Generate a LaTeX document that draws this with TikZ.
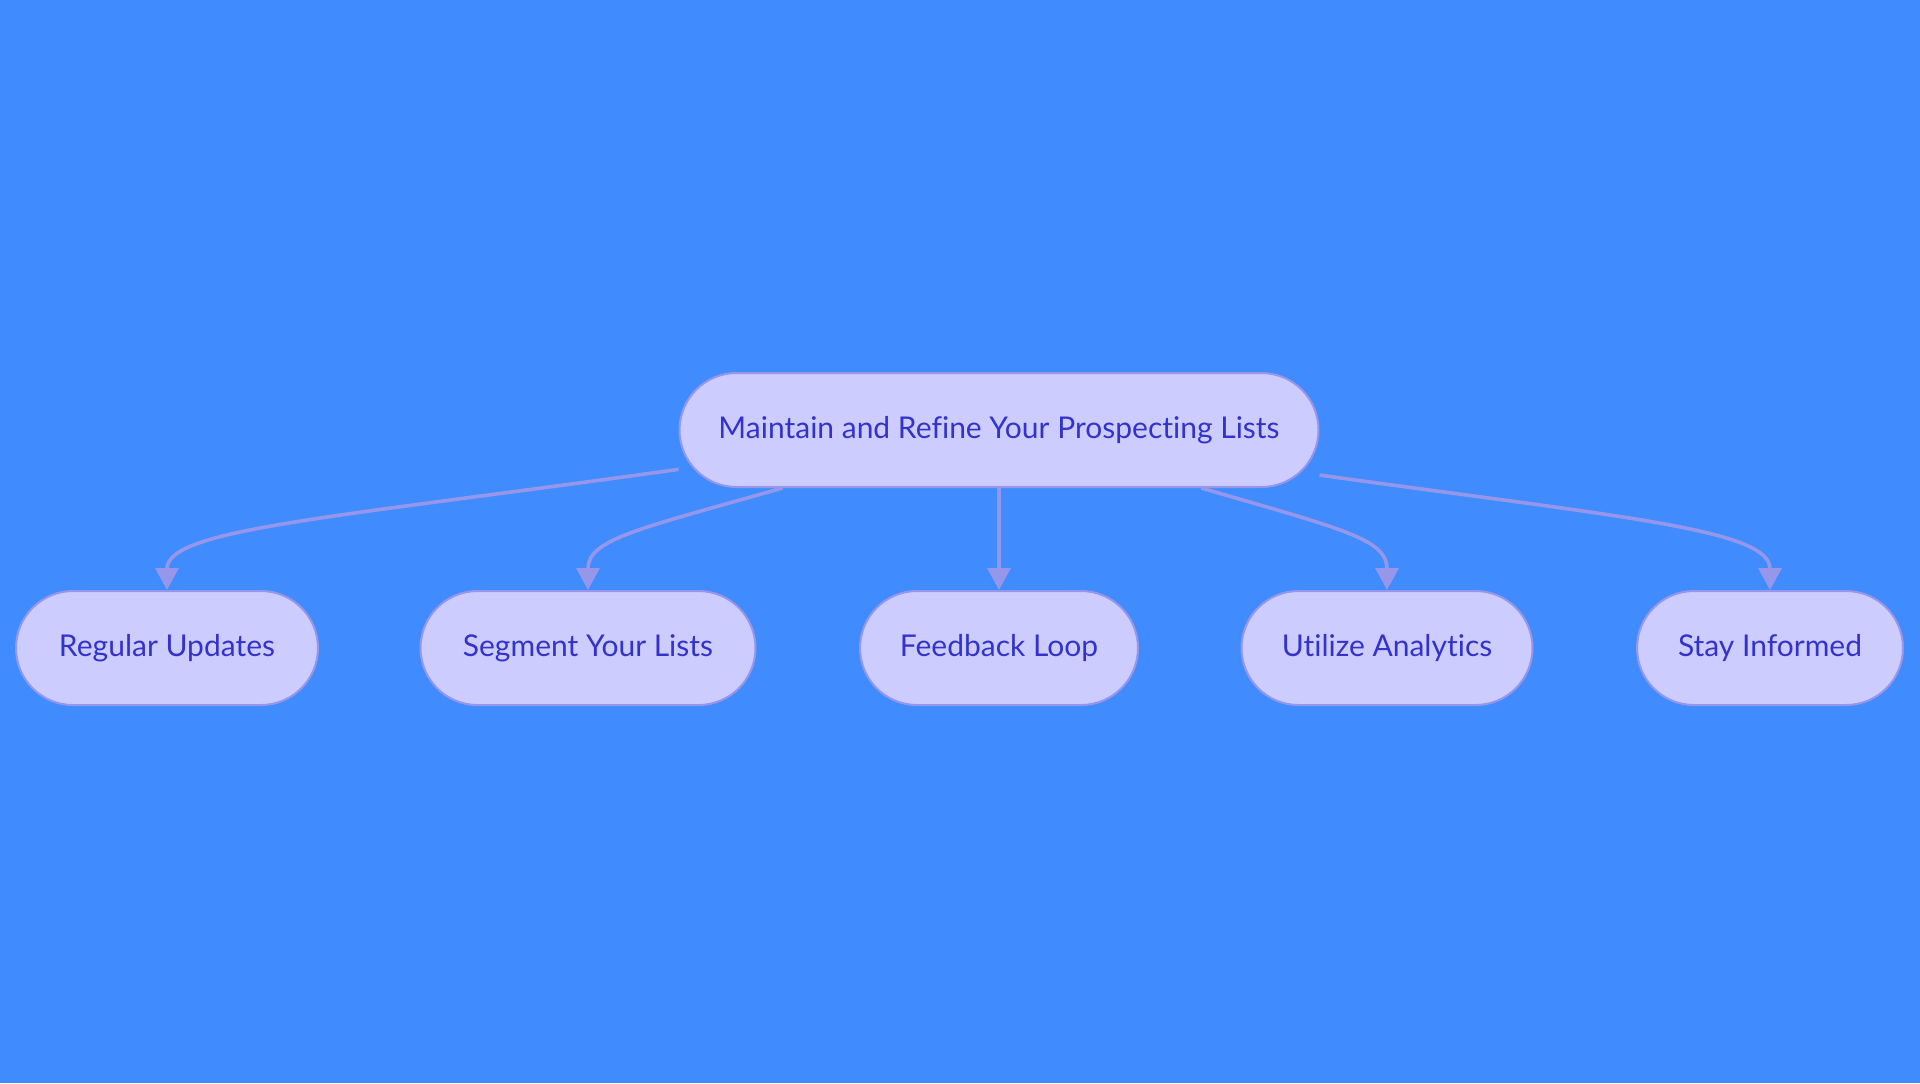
\documentclass[tikz,border=0pt]{standalone}
\usepackage{fontspec}
\setmainfont{Lato}[Ligatures=NoCommon]
\usetikzlibrary{arrows.meta}
\definecolor{bgblue}{RGB}{64,140,255}
\definecolor{pillfill}{RGB}{204,204,255}
\definecolor{pillline}{RGB}{150,150,235}
\definecolor{pilltext}{RGB}{51,51,204}

\begin{document}
\begin{tikzpicture}[x=0.5pt,y=-0.5pt,
    pill/.style={draw=pillline,line width=1pt,fill=pillfill,text=pilltext,
      rounded corners=28.5pt,minimum height=57pt,inner sep=0pt,
      font=\fontsize{15}{18}\selectfont},
    link/.style={draw=pillline,line width=1.8pt,-{Triangle[length=11pt,width=11.5pt]}}]
  \fill[bgblue] (0,0) rectangle (1920,1083);
  \useasboundingbox (0,0) rectangle (1920,1083);
  \path (999,430) node[pill,minimum width=319.5pt] (lists) {Maintain and Refine Your Prospecting Lists};
  \path (167,648) node[pill,minimum width=151pt] (updates) {Regular Updates}
        (588,648) node[pill,minimum width=167.5pt] (segment) {Segment Your Lists}
        (999,648) node[pill,minimum width=139pt] (feedback) {Feedback Loop}
        (1387,648) node[pill,minimum width=145.5pt] (analytics) {Utilize Analytics}
        (1770,648) node[pill,minimum width=133pt] (informed) {Stay Informed};
  \draw[link] (lists.187.3) .. controls +(-350,49) and +(0,-61) .. (updates.north);
  \draw[link] (lists.195) .. controls +(-144,41) and +(0,-51) .. (segment.north);
  \draw[link] (lists.south) -- (feedback.north);
  \draw[link] (lists.344) .. controls +(141,41) and +(0,-51) .. (analytics.north);
  \draw[link] (lists.352) .. controls +(301,42) and +(0,-61) .. (informed.north);
\end{tikzpicture}
\end{document}
